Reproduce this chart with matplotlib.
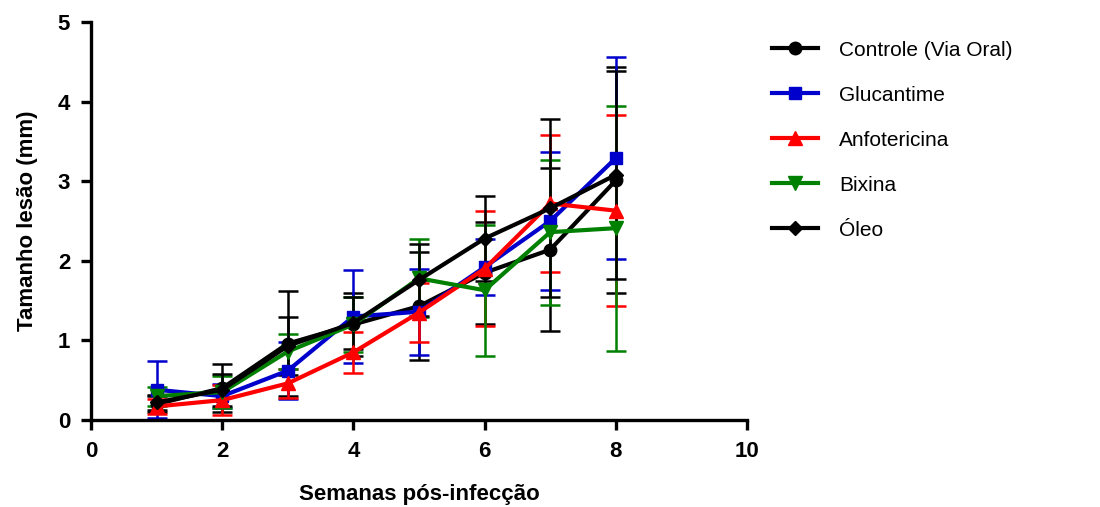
import numpy as np
import matplotlib
matplotlib.use("Agg")
import matplotlib.pyplot as plt
from matplotlib.lines import Line2D

plt.rcParams['font.family'] = ['Liberation Sans', 'DejaVu Sans']

# weeks after infection
semanas = [1, 2, 3, 4, 5, 6, 7, 8]

# lesion size (mm) and SD for each group
controle = [0.20, 0.40, 0.96, 1.20, 1.43, 1.85, 2.14, 3.01]
controle_sd = [0.10, 0.30, 0.66, 0.40, 0.68, 0.64, 1.02, 1.42]
glucantime = [0.38, 0.30, 0.62, 1.30, 1.36, 1.92, 2.50, 3.29]
glucantime_sd = [0.36, 0.15, 0.36, 0.58, 0.54, 0.35, 0.87, 1.27]
anfotericina = [0.17, 0.25, 0.46, 0.85, 1.35, 1.90, 2.72, 2.63]
anfotericina_sd = [0.10, 0.19, 0.18, 0.26, 0.37, 0.72, 0.86, 1.20]
bixina = [0.30, 0.35, 0.86, 1.20, 1.78, 1.63, 2.36, 2.41]
bixina_sd = [0.12, 0.20, 0.22, 0.35, 0.49, 0.82, 0.91, 1.54]
oleo = [0.22, 0.38, 0.93, 1.22, 1.76, 2.28, 2.66, 3.08]
oleo_sd = [0.10, 0.20, 0.37, 0.33, 0.45, 0.54, 1.12, 1.31]

fig = plt.figure(figsize=(11, 5.07), dpi=100)
ax = fig.add_axes([0.0827, 0.1716, 0.5964, 0.785])

series = [
    ("Controle (Via Oral)", controle, controle_sd, "black", "o", 9),
    ("Glucantime", glucantime, glucantime_sd, "#0000CC", "s", 9),
    ("Anfotericina", anfotericina, anfotericina_sd, "#FF0000", "^", 10),
    ("Bixina", bixina, bixina_sd, "#008000", "v", 10),
    ("Óleo", oleo, oleo_sd, "black", "D", 7),
]

handles = []
for nome, vals, sd, cor, mk, ms in series:
    ax.errorbar(semanas, vals, yerr=sd, color=cor, marker=mk, markersize=ms,
                linewidth=3, elinewidth=1.8, capsize=7, capthick=1.8)
    handles.append(Line2D([], [], color=cor, marker=mk, markersize=ms,
                          linewidth=3, label=nome))

ax.set_xlim(0, 10)
ax.set_ylim(0, 5)
ax.set_xticks([0, 2, 4, 6, 8, 10])
ax.set_yticks([0, 1, 2, 3, 4, 5])
ax.spines['top'].set_visible(False)
ax.spines['right'].set_visible(False)
ax.spines['left'].set_linewidth(2.4)
ax.spines['bottom'].set_linewidth(2.4)
ax.tick_params(width=2.4, length=7, labelsize=16, pad=8)
for lab in ax.get_xticklabels() + ax.get_yticklabels():
    lab.set_fontweight('bold')

ax.set_xlabel("Semanas pós-infecção", fontsize=16, fontweight='bold', labelpad=16)
ax.set_ylabel("Tamanho lesão (mm)", fontsize=16, fontweight='bold', labelpad=14)

fig.legend(handles=handles, loc='upper left', bbox_to_anchor=(0.685, 0.957),
           frameon=False, fontsize=15, handlelength=2.2, labelspacing=1.25,
           handletextpad=1.0)

plt.savefig("out.png", dpi=100)
